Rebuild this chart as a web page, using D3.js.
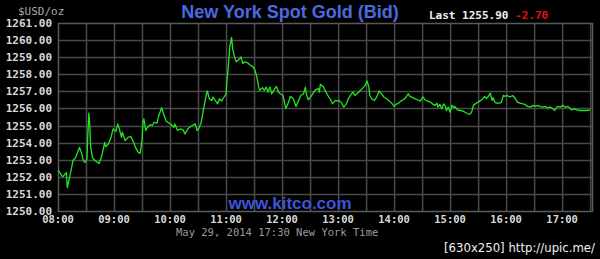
<!DOCTYPE html>
<html>
<head>
<meta charset="utf-8">
<script src="https://cdn.jsdelivr.net/npm/d3@7"></script>
<style>
  html, body { margin: 0; padding: 0; background: #000; }
  svg { display: block; }
</style>
</head>
<body>
<div id="chart"></div>
<script>
// minutes after 08:00 (New York time)
const minutes = [
  0, 2, 5, 7, 9, 10, 12, 15, 16, 19, 21, 23, 25, 27, 29, 31, 32, 33, 34, 35,
  37, 39, 41, 44, 47, 50, 51, 54, 57, 59, 62, 64, 66, 68, 69, 72, 75, 78, 81, 83,
  86, 88, 90, 91, 92, 94, 96, 99, 101, 103, 106, 108, 111, 113, 116, 120, 124, 125, 128, 131,
  134, 136, 139, 141, 144, 147, 149, 150, 153, 156, 159, 160, 162, 165, 166, 169, 171, 173, 175, 178,
  180, 181, 183, 184, 186, 187, 189, 191, 193, 196, 198, 200, 203, 206, 209, 211, 213, 215, 216, 219,
  221, 223, 225, 227, 229, 231, 234, 236, 238, 241, 244, 247, 249, 252, 255, 257, 260, 263, 265, 266,
  268, 271, 274, 276, 279, 280, 281, 284, 287, 290, 292, 294, 297, 299, 301, 304, 306, 309, 311, 314,
  316, 318, 321, 324, 326, 329, 331, 333, 334, 336, 339, 341, 344, 347, 349, 352, 355, 358, 360, 362,
  365, 367, 370, 373, 375, 377, 380, 382, 385, 388, 391, 393, 396, 399, 401, 404, 406, 407, 409, 411,
  413, 415, 416, 418, 420, 422, 424, 425, 428, 431, 434, 436, 439, 441, 443, 445, 448, 450, 453, 455,
  457, 459, 461, 463, 465, 466, 468, 470, 473, 475, 477, 479, 481, 484, 487, 490, 492, 495, 498, 500,
  503, 506, 509, 511, 514, 516, 519, 522, 524, 527, 530, 532, 535, 538, 541, 543, 546, 548, 550, 553,
  556, 559, 563, 566, 570
];

// bid price, $USD/oz
const bids = [
  1252.39, 1252.25, 1252.00, 1252.12, 1252.25, 1251.37, 1251.86, 1252.65, 1252.94, 1253.14,
  1253.43, 1253.72, 1253.43, 1252.98, 1252.84, 1253.04, 1254.51, 1255.72, 1255.10, 1253.72,
  1253.14, 1252.98, 1252.90, 1252.78, 1253.24, 1254.02, 1253.76, 1253.92, 1254.35, 1254.80,
  1254.66, 1255.10, 1254.75, 1254.31, 1254.61, 1254.12, 1254.31, 1254.35, 1254.02, 1253.72,
  1253.43, 1253.37, 1254.12, 1255.19, 1255.39, 1254.71, 1254.90, 1255.06, 1255.00, 1255.19,
  1255.14, 1255.59, 1256.04, 1255.69, 1255.25, 1255.10, 1254.90, 1255.10, 1254.71, 1254.80,
  1254.75, 1254.51, 1254.80, 1254.90, 1255.00, 1255.10, 1254.71, 1254.75, 1255.10, 1255.98,
  1256.86, 1257.02, 1256.57, 1256.47, 1256.67, 1256.43, 1256.27, 1256.57, 1256.43, 1256.67,
  1256.86, 1257.65, 1258.82, 1259.61, 1260.16, 1259.51, 1259.02, 1258.73, 1258.82, 1259.02,
  1258.63, 1258.73, 1258.67, 1258.53, 1258.43, 1258.24, 1257.84, 1257.25, 1257.06, 1257.22,
  1257.06, 1257.25, 1256.96, 1257.25, 1256.86, 1257.06, 1257.29, 1256.96, 1256.86, 1256.76,
  1256.00, 1256.37, 1256.71, 1256.57, 1256.12, 1256.37, 1256.76, 1256.86, 1257.25, 1256.86,
  1256.51, 1256.71, 1256.96, 1257.10, 1257.16, 1256.96, 1257.41, 1257.29, 1256.96, 1256.67,
  1256.51, 1256.27, 1256.47, 1256.43, 1256.47, 1256.31, 1256.08, 1256.27, 1256.57, 1256.82,
  1256.96, 1256.76, 1256.90, 1257.06, 1257.16, 1257.35, 1257.61, 1257.25, 1256.76, 1256.57,
  1256.47, 1256.63, 1257.02, 1256.82, 1256.67, 1256.57, 1256.43, 1256.27, 1256.12, 1256.24,
  1256.31, 1256.43, 1256.51, 1256.67, 1256.86, 1256.71, 1256.63, 1256.57, 1256.51, 1256.43,
  1256.67, 1256.51, 1256.43, 1256.37, 1256.27, 1256.18, 1256.31, 1256.08, 1256.24, 1255.98,
  1256.27, 1256.12, 1255.88, 1256.08, 1255.78, 1256.18, 1256.04, 1256.12, 1255.92, 1255.88,
  1255.84, 1255.78, 1255.69, 1255.65, 1255.78, 1256.18, 1256.31, 1256.37, 1256.47, 1256.57,
  1256.71, 1256.57, 1256.71, 1256.90, 1256.47, 1256.63, 1256.37, 1256.31, 1256.31, 1256.37,
  1256.76, 1256.71, 1256.76, 1256.67, 1256.76, 1256.57, 1256.37, 1256.31, 1256.27, 1256.24,
  1256.12, 1256.08, 1256.18, 1256.12, 1256.18, 1256.12, 1256.08, 1256.12, 1256.04, 1256.08,
  1255.98, 1255.88, 1256.12, 1256.08, 1256.18, 1256.08, 1256.12, 1256.04, 1255.92, 1255.98,
  1255.92, 1255.88, 1255.88, 1255.88, 1255.90
];

// axis labels
const priceTicks = [1250, 1251, 1252, 1253, 1254, 1255, 1256, 1257, 1258, 1259, 1260, 1261];
const hourLabels = ['08:00', '09:00', '10:00', '11:00', '12:00', '13:00', '14:00', '15:00', '16:00', '17:00'];
const lastPrice = '1255.90';
const lastChange = '-2.70';

const width = 600;
const height = 259;
const marginTop = 23;
const marginLeft = 58;
const plotW = 534;
const plotH = 188;

// domain runs a little past the last quote (17:32)
const scaleX = d3.scaleLinear().domain([0, 572]).range([marginLeft, marginLeft + plotW]);
const scaleY = d3.scaleLinear().domain([1250, 1261]).range([marginTop + plotH, marginTop]);

const mono = "'DejaVu Sans Mono', 'Liberation Mono', monospace";
const sans = "'Liberation Sans', Arial, sans-serif";

const $svg = d3.select('#chart')
  .append('svg')
  .attr('width', width)
  .attr('height', height)
  .style('background', '#000');

// grid
const halfHours = d3.range(30, 572, 30);
$svg.append('g')
  .selectAll('line')
  .data(halfHours)
  .enter()
  .append('line')
  .attr('x1', d => scaleX(d) + 0.5)
  .attr('x2', d => scaleX(d) + 0.5)
  .attr('y1', marginTop)
  .attr('y2', marginTop + plotH)
  .attr('stroke', '#4a4a4a')
  .attr('stroke-width', 1.5);

$svg.append('g')
  .selectAll('line')
  .data(priceTicks.slice(1, -1))
  .enter()
  .append('line')
  .attr('x1', marginLeft)
  .attr('x2', marginLeft + plotW)
  .attr('y1', d => Math.round(scaleY(d)) + 0.5)
  .attr('y2', d => Math.round(scaleY(d)) + 0.5)
  .attr('stroke', '#4a4a4a')
  .attr('stroke-width', 1.5);

$svg.append('rect')
  .attr('x', marginLeft + 0.5)
  .attr('y', marginTop + 0.5)
  .attr('width', plotW)
  .attr('height', plotH)
  .attr('fill', 'none')
  .attr('stroke', '#5a5a5a')
  .attr('stroke-width', 1.5);

// y labels
$svg.append('g')
  .selectAll('text')
  .data(priceTicks)
  .enter()
  .append('text')
  .attr('x', 52)
  .attr('y', d => scaleY(d) + 4)
  .attr('text-anchor', 'end')
  .attr('font-family', mono)
  .attr('font-weight', 'bold')
  .attr('font-size', 11)
  .attr('fill', '#d8d8d8')
  .text(d => d.toFixed(2));

// x labels
$svg.append('g')
  .selectAll('text')
  .data(hourLabels)
  .enter()
  .append('text')
  .attr('x', (d, i) => scaleX(i * 60))
  .attr('y', 223)
  .attr('text-anchor', 'middle')
  .attr('font-family', mono)
  .attr('font-weight', 'bold')
  .attr('font-size', 10.5)
  .attr('fill', '#d8d8d8')
  .text(d => d);

// watermark inside plot
$svg.append('text')
  .attr('x', 290)
  .attr('y', 209)
  .attr('text-anchor', 'middle')
  .attr('font-family', sans)
  .attr('font-weight', 'bold')
  .attr('font-size', 17)
  .attr('fill', '#3a55d8')
  .text('www.kitco.com');

// price line
const line = d3.line()
  .x((d, i) => scaleX(minutes[i]))
  .y(d => scaleY(d));

$svg.append('path')
  .datum(bids)
  .attr('d', line)
  .attr('fill', 'none')
  .attr('stroke', '#22e622')
  .attr('stroke-width', 1.3)
  .attr('stroke-linejoin', 'round');

// header
$svg.append('text')
  .attr('x', 18)
  .attr('y', 15)
  .attr('font-family', mono)
  .attr('font-size', 11)
  .attr('fill', '#a8a8a8')
  .text('$USD/oz');

$svg.append('text')
  .attr('x', 290)
  .attr('y', 18)
  .attr('text-anchor', 'middle')
  .attr('font-family', sans)
  .attr('font-weight', 'bold')
  .attr('font-size', 18)
  .attr('fill', '#4a6ae0')
  .text('New York Spot Gold (Bid)');

const $last = $svg.append('text')
  .attr('x', 429)
  .attr('y', 19)
  .attr('font-family', mono)
  .attr('font-weight', 'bold')
  .attr('font-size', 11)
  .attr('xml:space', 'preserve');
$last.append('tspan').attr('fill', '#f0f0f0').text(`Last ${lastPrice} `);
$last.append('tspan').attr('fill', '#e01010').text(lastChange);

// footer
$svg.append('text')
  .attr('x', 176)
  .attr('y', 236)
  .attr('font-family', mono)
  .attr('font-size', 10.5)
  .attr('fill', '#9a9a9a')
  .text('May 29, 2014 17:30 New York Time');

$svg.append('text')
  .attr('x', 595)
  .attr('y', 252)
  .attr('text-anchor', 'end')
  .attr('font-family', "'DejaVu Sans Condensed', 'DejaVu Sans', sans-serif")
  .attr('font-size', 13)
  .attr('fill', '#f0f0f0')
  .text('[630x250] http://upic.me/');
</script>
</body>
</html>
